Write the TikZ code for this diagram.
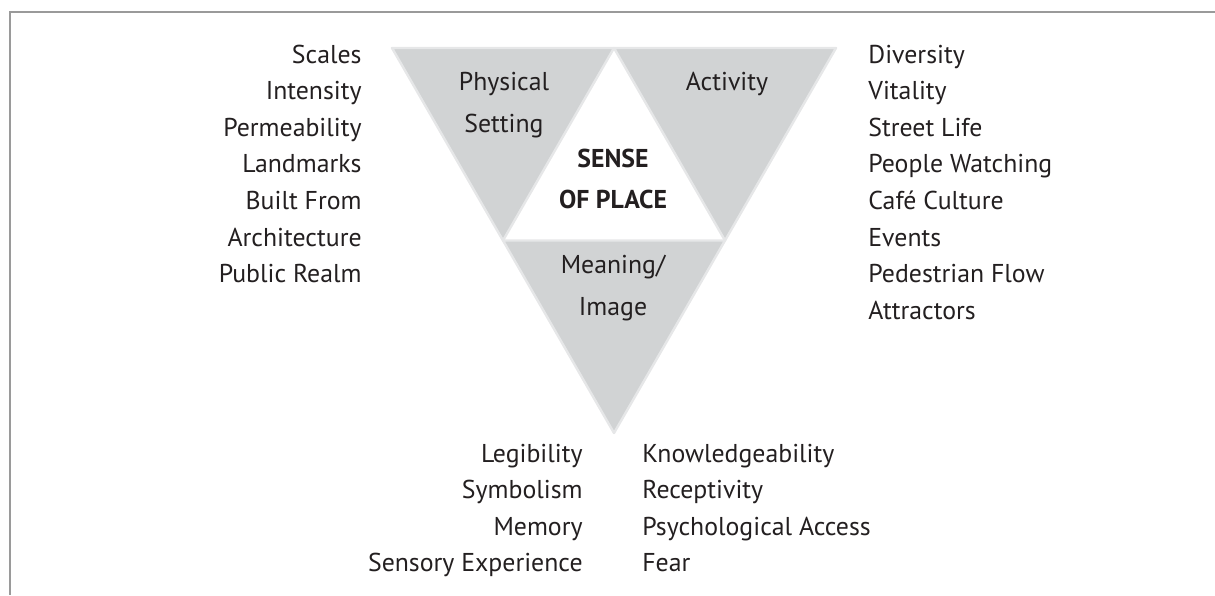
\documentclass[tikz,border=0pt]{standalone}
\usepackage{fontspec}
\setmainfont{PT Sans}
\definecolor{tri}{HTML}{D1D3D4}
\definecolor{triedge}{HTML}{E6E7E8}
\definecolor{ink}{HTML}{231F20}
\definecolor{frame}{HTML}{9A9A9A}
\tikzset{
  piece/.style={fill=tri, draw=triedge, line width=1.2pt, line join=round},
  item/.style={inner sep=0pt, text=ink, font=\fontsize{12.9}{15}\selectfont},
  itemL/.style={item, anchor=base east},
  itemR/.style={item, anchor=base west},
  label/.style={item, anchor=base}
}
\begin{document}
\begin{tikzpicture}[x=0.5pt,y=-0.5pt]
\useasboundingbox (0,0) rectangle (1215,595);

%Straight Lines [frame]
\draw [frame, line width=1pt]  (1215,12) -- (10,12) -- (10,595) ;

%Points of the triangle
\coordinate (tl) at (392,48);
\coordinate (tm) at (614,48);
\coordinate (tr) at (836,48);
\coordinate (ml) at (503,240.5);
\coordinate (mr) at (725,240.5);
\coordinate (apex) at (614,433);

%Shape: Triangle [physical]
\draw [piece] (tl) -- (tm) -- (ml) -- cycle ;
%Shape: Triangle [activity]
\draw [piece] (tm) -- (tr) -- (mr) -- cycle ;
%Shape: Triangle [meaning]
\draw [piece] (ml) -- (mr) -- (apex) -- cycle ;

% Text Node
\draw (504,90) node [label] (phys) {Physical};
\draw (504,132) node [label] (sett) {Setting};
\draw (727,90) node [label] (act) {Activity};
\draw (613,167) node [label, font=\fontsize{12.9}{15}\bfseries] (sense) {SENSE};
\draw (613,208) node [label, font=\fontsize{12.9}{15}\bfseries] (ofplace) {OF PLACE};
\draw (613,273) node [label] (mean) {Meaning/};
\draw (613,315) node [label] (image) {Image};

% Text Node
\draw (362,63) node [itemL] (scales) {Scales};
\draw (362,99.6) node [itemL] (intens) {Intensity};
\draw (362,136.2) node [itemL] (perm) {Permeability};
\draw (362,172.8) node [itemL] (landm) {Landmarks};
\draw (362,209.4) node [itemL] (built) {Built From};
\draw (362,246) node [itemL] (arch) {Architecture};
\draw (362,282.6) node [itemL] (realm) {Public Realm};

% Text Node
\draw (868,63) node [itemR] (divers) {Diversity};
\draw (868,99.6) node [itemR] (vital) {Vitality};
\draw (868,136.2) node [itemR] (street) {Street Life};
\draw (868,172.8) node [itemR] (people) {People Watching};
\draw (868,209.4) node [itemR] (cafe) {Café Culture};
\draw (868,246) node [itemR] (events) {Events};
\draw (868,282.6) node [itemR] (flow) {Pedestrian Flow};
\draw (868,319.2) node [itemR] (attr) {Attractors};

% Text Node
\draw (583,462) node [itemL] (legib) {Legibility};
\draw (583,498.6) node [itemL] (symb) {Symbolism};
\draw (583,535.2) node [itemL] (memory) {Memory};
\draw (583,571.8) node [itemL] (sensory) {Sensory Experience};

% Text Node
\draw (642,462) node [itemR] (knowl) {Knowledgeability};
\draw (642,498.6) node [itemR] (recep) {Receptivity};
\draw (642,535.2) node [itemR] (psych) {Psychological Access};
\draw (642,571.8) node [itemR] (fear) {Fear};

\end{tikzpicture}
\end{document}
